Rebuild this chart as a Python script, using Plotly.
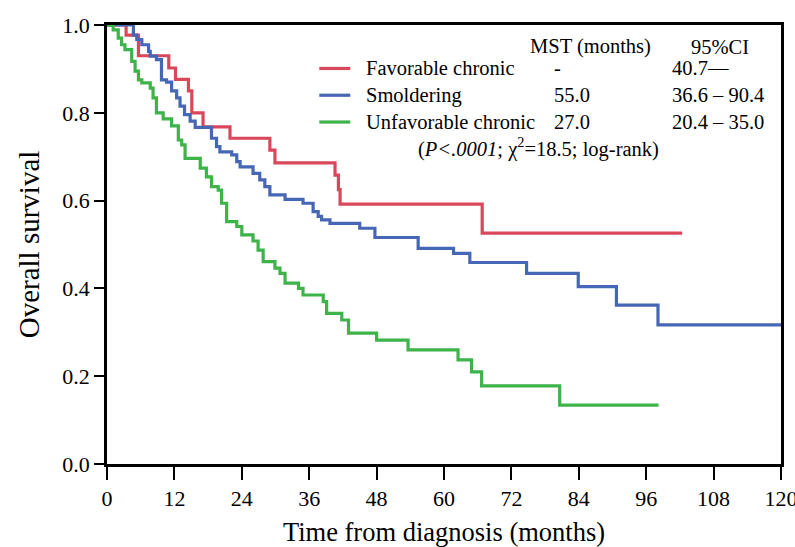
import plotly.graph_objects as go

# Kaplan-Meier step data (months, survival)
red_t = [0, 3.4, 5.6, 11.0, 12.2, 14.5, 15.1, 17.1, 21.9, 29.0, 29.9, 40.6, 41.2, 41.5, 66.8, 102.4]
red_s = [1.0, 0.977, 0.93, 0.902, 0.876, 0.85, 0.80, 0.768, 0.742, 0.715, 0.686, 0.658, 0.625, 0.592, 0.526, 0.526]

blue_t = [0, 4.7, 5.3, 6.2, 7.4, 7.7, 8.8, 9.7, 10.6, 11.5, 12.4, 13.0, 13.8, 14.8, 15.7, 18.6, 19.5,
          20.1, 22.2, 23.1, 23.7, 26.0, 27.2, 28.1, 29.0, 31.7, 34.9, 36.7, 37.6, 38.2, 39.7, 45.0,
          47.7, 55.4, 61.7, 64.6, 74.7, 83.9, 90.7, 98.1, 120]
blue_s = [1.0, 0.977, 0.967, 0.955, 0.940, 0.929, 0.921, 0.875, 0.870, 0.850, 0.834, 0.815, 0.796,
          0.781, 0.767, 0.742, 0.723, 0.711, 0.704, 0.689, 0.677, 0.662, 0.647, 0.632, 0.613, 0.603,
          0.594, 0.575, 0.564, 0.556, 0.548, 0.537, 0.516, 0.491, 0.480, 0.459, 0.434, 0.404, 0.362,
          0.317, 0.317]

green_t = [0, 1.1, 2.0, 2.6, 3.2, 4.4, 5.0, 5.6, 6.2, 7.7, 8.2, 8.8, 10.0, 11.5, 12.7, 13.3, 13.9,
           16.6, 17.7, 18.6, 19.8, 20.4, 21.3, 23.1, 24.0, 26.0, 26.9, 27.8, 29.9, 30.8, 31.7, 34.1,
           34.9, 38.5, 39.1, 41.8, 43.0, 48.0, 53.6, 62.5, 64.9, 66.7, 80.6, 98.2]
green_s = [1.0, 0.989, 0.970, 0.955, 0.944, 0.917, 0.895, 0.875, 0.868, 0.856, 0.834, 0.800, 0.786,
           0.770, 0.738, 0.727, 0.696, 0.674, 0.654, 0.632, 0.624, 0.594, 0.552, 0.541, 0.522, 0.508,
           0.487, 0.461, 0.446, 0.434, 0.412, 0.400, 0.385, 0.370, 0.343, 0.328, 0.298, 0.282, 0.260,
           0.237, 0.210, 0.178, 0.134, 0.134]

groups = ["Favorable chronic", "Smoldering", "Unfavorable chronic"]
mst = ["-", "55.0", "27.0"]
ci = ["40.7\u2014", "36.6 \u2013 90.4", "20.4 \u2013 35.0"]
colors = ["#d9485a", "#4667b6", "#3db349"]

x_ticks = list(range(0, 121, 12))
y_ticks = [0.0, 0.2, 0.4, 0.6, 0.8, 1.0]

FONT = "Liberation Serif"

fig = go.Figure()
for t, s, c, name in [(red_t, red_s, colors[0], groups[0]),
                      (blue_t, blue_s, colors[1], groups[1]),
                      (green_t, green_s, colors[2], groups[2])]:
    fig.add_trace(go.Scatter(x=t, y=s, mode="lines", line=dict(color=c, width=3.2, shape="hv"),
                             name=name, showlegend=False))

# legend-like table
row_y = [0.901, 0.840, 0.779]
ann = []
shapes = []
ann.append(dict(x=0.718, y=0.951, text="MST (months)"))
ann.append(dict(x=0.909, y=0.951, text="95%CI"))
for i in range(3):
    shapes.append(dict(type="line", xref="paper", yref="paper", x0=0.315, x1=0.361,
                       y0=row_y[i], y1=row_y[i], line=dict(color=colors[i], width=3.2)))
    ann.append(dict(x=0.382, y=row_y[i], text=groups[i], xanchor="left"))
    ann.append(dict(x=0.660, y=row_y[i], text=mst[i], xanchor="left"))
    ann.append(dict(x=0.836, y=row_y[i], text=ci[i], xanchor="left"))
ann.append(dict(x=0.640, y=0.722, text="(<i>P&lt;.0001</i>; \u03c7<sup>2</sup>=18.5; log-rank)"))

annotations = []
for a in ann:
    d = dict(xref="paper", yref="paper", showarrow=False, yanchor="middle",
             font=dict(family=FONT, size=20.5, color="black"))
    d.setdefault("xanchor", "center")
    d.update(a)
    annotations.append(d)

fig.update_layout(
    width=795, height=547,
    margin=dict(l=107, r=14, t=25, b=83),
    plot_bgcolor="white", paper_bgcolor="white",
    font=dict(family=FONT, size=22, color="black"),
    shapes=shapes, annotations=annotations,
    xaxis=dict(range=[0, 120], tickvals=x_ticks, ticks="outside", ticklen=13, tickwidth=2,
               tickcolor="black", showline=True, linecolor="black", linewidth=2.5, mirror=True,
               showgrid=False, zeroline=False, tickfont=dict(size=22), ticklabeloverflow="allow",
               automargin=False,
               title=dict(text="Time from diagnosis (months)", font=dict(size=26.5))),
    yaxis=dict(range=[0, 1.0], tickvals=y_ticks, ticktext=[f"{v:.1f}" for v in y_ticks],
               ticks="outside", ticklen=10, tickwidth=2, tickcolor="black", showline=True,
               linecolor="black", linewidth=2.5, mirror=True, showgrid=False, zeroline=False,
               tickfont=dict(size=22), ticklabeloverflow="allow", automargin=False,
               title=dict(text="Overall survival", font=dict(size=29))),
)

fig.write_html("out.html")
